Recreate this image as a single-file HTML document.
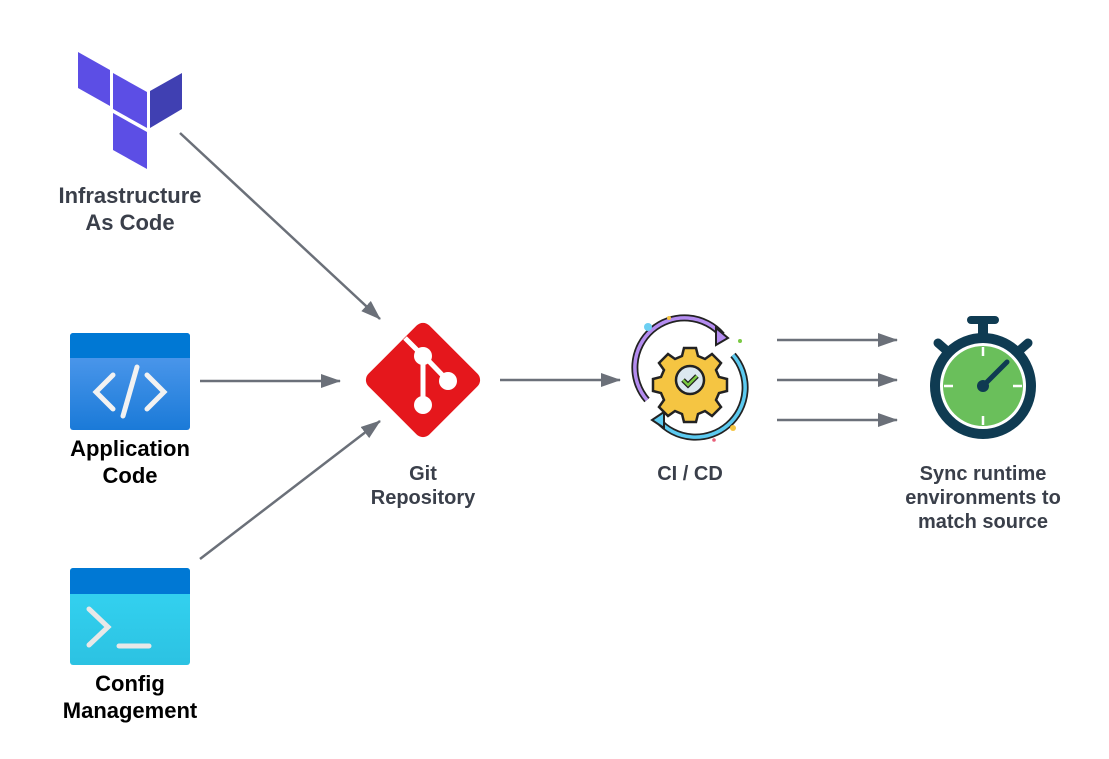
<!DOCTYPE html>
<html><head><meta charset="utf-8"><style>
body{margin:0;width:1109px;height:759px;background:#fff;overflow:hidden;font-family:"Liberation Sans",sans-serif}
.t{position:absolute;text-align:center;font-weight:bold;transform:translateX(-50%);white-space:nowrap}
</style></head><body>
<svg width="1109" height="759" style="position:absolute;left:0;top:0">
<defs>
<marker id="a" markerWidth="20" markerHeight="14" refX="19" refY="7" orient="auto" markerUnits="userSpaceOnUse" viewBox="0 0 20 14">
<path d="M0,0 L20,7 L0,14 z" fill="#6b7079"/></marker>
<linearGradient id="g1" x1="0" y1="0" x2="0" y2="1"><stop offset="0" stop-color="#5a9ff0"/><stop offset="1" stop-color="#1a7ad8"/></linearGradient>
<linearGradient id="g2" x1="0" y1="0" x2="0" y2="1"><stop offset="0" stop-color="#35d6f4"/><stop offset="1" stop-color="#2cc2e2"/></linearGradient>
</defs>
<g stroke="#6b7079" stroke-width="2.5" fill="none" marker-end="url(#a)">
<line x1="180" y1="133" x2="380" y2="319"/>
<line x1="200" y1="381" x2="340" y2="381"/>
<line x1="200" y1="559" x2="380" y2="421"/>
<line x1="500" y1="380" x2="620" y2="380"/>
<line x1="777" y1="340" x2="897" y2="340"/>
<line x1="777" y1="380" x2="897" y2="380"/>
<line x1="777" y1="420" x2="897" y2="420"/>
</g>
<!-- terraform -->
<polygon points="78,52 110,70 110,106 78,88" fill="#5c4ee5"/>
<polygon points="113,73 147,92 147,128 113,109" fill="#5c4ee5"/>
<polygon points="150,91 182,73 182,109 150,128" fill="#4040b2"/>
<polygon points="113,113 147,132 147,169 113,150" fill="#5c4ee5"/>
<!-- app code -->
<rect x="70" y="333" width="120" height="97" rx="3" fill="url(#g1)"/>
<path d="M70,358 V336 a3,3 0 0 1 3,-3 H187 a3,3 0 0 1 3,3 V358 z" fill="#0078d4"/>
<g stroke="#f2f2f2" stroke-width="5" stroke-linecap="round" fill="none">
<polyline points="113,375 96,392 113,409"/><polyline points="147,375 164,392 147,409"/><line x1="137" y1="367" x2="123" y2="416"/></g>
<!-- config -->
<rect x="70" y="568" width="120" height="97" rx="3" fill="url(#g2)"/>
<path d="M70,594 V571 a3,3 0 0 1 3,-3 H187 a3,3 0 0 1 3,3 V594 z" fill="#0078d4"/>
<g stroke="#e8e8e8" stroke-width="5" stroke-linecap="round" fill="none">
<polyline points="89,609 108,627 89,645"/><line x1="119" y1="646" x2="149" y2="646"/></g>
<!-- git -->
<rect x="380" y="337" width="86" height="86" rx="9" fill="#e5171c" transform="rotate(45 423 380)"/>
<g stroke="#fff" stroke-width="5" fill="none"><line x1="423" y1="355" x2="423" y2="405"/><line x1="423" y1="355" x2="448" y2="381"/><line x1="405" y1="338" x2="423" y2="356"/></g>
<g fill="#fff"><circle cx="423" cy="356" r="9"/><circle cx="448" cy="381" r="9"/><circle cx="423" cy="405" r="9"/></g>
<!-- ci/cd -->
<path d="M647,400 A48,48 0 0 1 722,335" stroke="#222" stroke-width="7" fill="none"/>
<path d="M647,400 A48,48 0 0 1 722,335" stroke="#b48cf0" stroke-width="3.5" fill="none"/>
<path d="M733,355 A48,48 0 0 1 658,420" stroke="#222" stroke-width="7" fill="none"/>
<path d="M733,355 A48,48 0 0 1 658,420" stroke="#5ccaf0" stroke-width="3.5" fill="none"/>
<polygon points="716,328 728,338 716,345" fill="#b48cf0" stroke="#222" stroke-width="2"/>
<polygon points="664,412 652,420 664,428" fill="#5ccaf0" stroke="#222" stroke-width="2"/>
<g transform="translate(690,380)">
<g fill="#f5c542" stroke="#222" stroke-width="2.5">
<path d="M-6,-32 h12 l2,8 l7,3 l7,-5 l9,9 l-5,7 l3,7 l8,2 v12 l-8,2 l-3,7 l5,7 l-9,9 l-7,-5 l-7,3 l-2,8 h-12 l-2,-8 l-7,-3 l-7,5 l-9,-9 l5,-7 l-3,-7 l-8,-2 v-12 l8,-2 l3,-7 l-5,-7 l9,-9 l7,5 l7,-3 z"/></g>
<circle r="14" fill="#dce8f0" stroke="#222" stroke-width="2.5"/>
<polyline points="-7,0 -2,5 7,-4" stroke="#222" stroke-width="5" fill="none"/>
<polyline points="-7,0 -2,5 7,-4" stroke="#7ac943" stroke-width="2.5" fill="none"/>
</g>
<circle cx="648" cy="327" r="4" fill="#6ccff2"/><circle cx="669" cy="318" r="2" fill="#f5c542"/><circle cx="740" cy="341" r="2" fill="#7ac943"/><circle cx="733" cy="428" r="3" fill="#f5c542"/><circle cx="714" cy="440" r="1.8" fill="#e8607a"/>
<!-- stopwatch -->
<rect x="967" y="316" width="32" height="8" rx="4" fill="#0f3b52"/>
<rect x="978" y="320" width="10" height="14" fill="#0f3b52"/>
<g stroke="#0f3b52" stroke-width="9" stroke-linecap="round"><line x1="938" y1="343" x2="946" y2="350"/><line x1="1028" y1="343" x2="1020" y2="350"/></g>
<circle cx="983" cy="386" r="48" fill="none" stroke="#0f3b52" stroke-width="10"/>
<circle cx="983" cy="386" r="40" fill="#6abf5b"/>
<g stroke="#fff" stroke-width="2.5"><line x1="983" y1="347" x2="983" y2="356"/><line x1="983" y1="416" x2="983" y2="425"/><line x1="944" y1="386" x2="953" y2="386"/><line x1="1013" y1="386" x2="1022" y2="386"/></g>
<line x1="983" y1="386" x2="1007" y2="362" stroke="#0f3b52" stroke-width="5" stroke-linecap="round"/>
<circle cx="983" cy="386" r="6" fill="#0f3b52"/>
</svg>
<div class="t" style="left:130px;top:182px;font-size:22px;line-height:27px;color:#3a3f4a">Infrastructure<br>As Code</div>
<div class="t" style="left:130px;top:435px;font-size:22px;line-height:27px;color:#000">Application<br>Code</div>
<div class="t" style="left:130px;top:670px;font-size:22px;line-height:27px;color:#000">Config<br>Management</div>
<div class="t" style="left:423px;top:462px;font-size:20px;line-height:24px;color:#3a3f4a">Git<br>Repository</div>
<div class="t" style="left:690px;top:462px;font-size:20px;line-height:24px;color:#3a3f4a">CI / CD</div>
<div class="t" style="left:983px;top:462px;font-size:20px;line-height:24px;color:#3a3f4a">Sync runtime<br>environments to<br>match source</div>
</body></html>
